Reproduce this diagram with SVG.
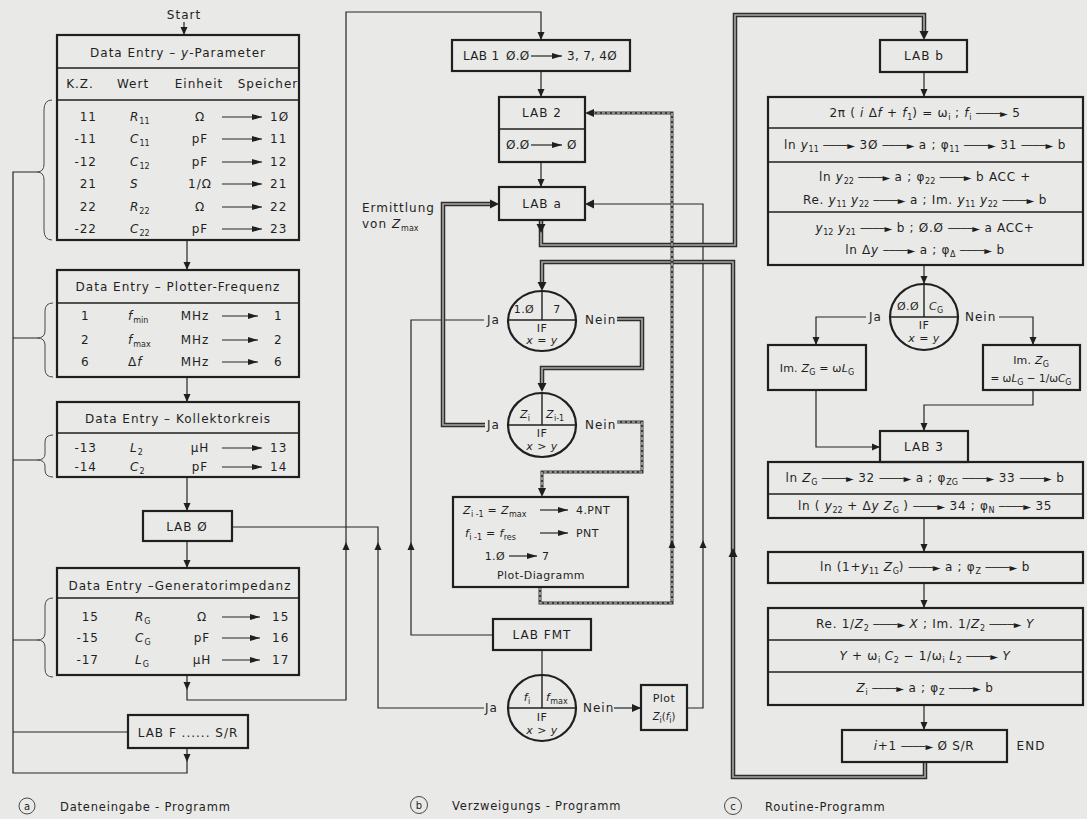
<svg xmlns="http://www.w3.org/2000/svg" width="1087" height="819" viewBox="0 0 1087 819">
<defs>
<style>
.bx{fill:none;stroke:#1f1f1f;stroke-width:2.2}
.dv{fill:none;stroke:#1f1f1f;stroke-width:1.4}
.ln{fill:none;stroke:#262626;stroke-width:1.2}
.br{fill:none;stroke:#4a4a4a;stroke-width:1}
.dbo{fill:none;stroke:#2e2e2e;stroke-width:4.5}
.dbi{fill:none;stroke:#a8a8a8;stroke-width:1.6}
.dto{fill:none;stroke:#3a3a3a;stroke-width:3}
.dti{fill:none;stroke:#cfcfcf;stroke-width:1.2;stroke-dasharray:3 2}
.ah{fill:#1f1f1f}
text{font-family:"DejaVu Sans","Liberation Sans",sans-serif;font-size:12px;letter-spacing:1px;fill:#1f1f1f}
.m{text-anchor:middle}
.e{text-anchor:end}
.it{font-style:italic}
.sb{font-size:8px;letter-spacing:0}
.ar{font-size:10px;letter-spacing:0}
.r{font-size:12px;letter-spacing:.7px;text-anchor:middle}
.c{font-size:11px;letter-spacing:.4px}
.s{letter-spacing:.3px}
.lb{font-size:11.5px;letter-spacing:.8px}
</style>
<marker id="a" markerWidth="10" markerHeight="7" refX="10" refY="3.5" orient="auto" markerUnits="userSpaceOnUse"><path d="M0,0.5 L10,3.5 L0,6.5z" fill="#1f1f1f"/></marker>
</defs>
<rect width="1087" height="819" fill="#e9e9e7"/>

<!-- connectors -->
<g id="connectors">
<!-- column a -->
<path class="ln" d="M184,22 V35"/>
<path class="ln" d="M187,240 V270"/>
<path class="ln" d="M187,377 V402"/>
<path class="ln" d="M187,477 V511"/>
<path class="ln" d="M187,541 V568"/>
<path class="ln" d="M187,675 V700 H346 V12 H541 V40"/>
<path class="ln" d="M187,748 V773 H13 V172 H37"/>
<path class="ln" d="M13,338 H37 M13,460 H37 M13,640 H37 M13,732 H128"/>
<path class="ln" d="M232,527 H378 V708 H484"/>
<path class="ln" d="M484,320 H411 V635 H493"/>
<!-- middle -->
<path class="ln" d="M541,71 V97"/>
<path class="ln" d="M541,162 V187"/>
<path class="ln" d="M687,708 H703 V204 H590"/>
<path class="ln" d="M542,650 V676"/>
<path class="ln" d="M614,708 H641"/>
<!-- column c -->
<path class="ln" d="M924,72 V97"/>
<path class="ln" d="M924,265 V284"/>
<path class="ln" d="M866,317 H816 V345"/>
<path class="ln" d="M999,317 H1033 V345"/>
<path class="ln" d="M1033,390 V405 H924 V431"/>
<path class="ln" d="M816,390 V447 H880"/>
<path class="ln" d="M924,518 V552"/>
<path class="ln" d="M924,583 V608"/>
<path class="ln" d="M924,705 V730"/>
<!-- double lines -->
<path class="dbo" d="M485,425 H443 V204 H491"/>
<path class="dbi" d="M485,425 H443 V204 H491"/>
<path class="dbo" d="M541,221 V245 H735 V15 H924 V32"/>
<path class="dbi" d="M541,221 V245 H735 V15 H924 V32"/>
<path class="dbo" d="M925,762 V777 H733 V262 H542 V283"/>
<path class="dbi" d="M925,762 V777 H733 V262 H542 V283"/>
<path class="dbo" d="M617,319 H642 V368 H542 V384"/>
<path class="dbi" d="M617,319 H642 V368 H542 V384"/>
<!-- dotted double lines -->
<path class="dto" d="M617,422 H642 V472 H542 V489"/>
<path class="dti" d="M617,422 H642 V472 H542 V489"/>
<path class="dto" d="M540,587 V603 H672 V113 H593"/>
<path class="dti" d="M540,587 V603 H672 V113 H593"/>
<!-- arrowheads -->
<g class="ah">
<polygon points="180.5,27 187.5,27 184,35"/>
<polygon points="183.5,262 190.5,262 187,270"/>
<polygon points="183.5,394 190.5,394 187,402"/>
<polygon points="183.5,503 190.5,503 187,511"/>
<polygon points="183.5,560 190.5,560 187,568"/>
<polygon points="183.5,682 190.5,682 187,690"/>
<polygon points="183.5,754 190.5,754 187,762"/>
<polygon points="342.5,550 349.5,550 346,542"/>
<polygon points="374.5,550 381.5,550 378,542"/>
<polygon points="407.5,550 414.5,550 411,542"/>
<polygon points="537.5,32 544.5,32 541,40"/>
<polygon points="537.5,89 544.5,89 541,97"/>
<polygon points="537.5,179 544.5,179 541,187"/>
<polygon points="490,199.5 490,208.5 499,204"/>
<polygon points="594,199.5 594,208.5 585,204"/>
<polygon points="594,109 594,117 585,113"/>
<polygon points="536.5,224 545.5,224 541,233"/>
<polygon points="919.5,31 928.5,31 924,40"/>
<polygon points="728.5,557 737.5,557 733,548"/>
<polygon points="537.5,282 546.5,282 542,291"/>
<polygon points="537.5,383 546.5,383 542,392"/>
<polygon points="538,488 546,488 542,497"/>
<polygon points="668.5,548 675.5,548 672,540"/>
<polygon points="699.5,548 706.5,548 703,540"/>
<polygon points="632,704 632,712 641,708"/>
<polygon points="920.5,89 927.5,89 924,97"/>
<polygon points="920.5,276 927.5,276 924,284"/>
<polygon points="812.5,337 819.5,337 816,345"/>
<polygon points="1029.5,337 1036.5,337 1033,345"/>
<polygon points="920.5,423 927.5,423 924,431"/>
<polygon points="872,443.5 872,450.5 880,447"/>
<polygon points="920.5,544 927.5,544 924,552"/>
<polygon points="920.5,600 927.5,600 924,608"/>
<polygon points="920.5,722 927.5,722 924,730"/>
</g>
<!-- braces -->
<path class="br" d="M52,100 Q44,100 44,110 L44,164 Q44,172 37,172 Q44,172 44,180 L44,230 Q44,240 52,240"/>
<path class="br" d="M53,303 Q45,303 45,311 L45,331 Q45,338 37,338 Q45,338 45,345 L45,369 Q45,377 53,377"/>
<path class="br" d="M53,435 Q45,435 45,442 L45,454 Q45,460 37,460 Q45,460 45,466 L45,470 Q45,477 53,477"/>
<path class="br" d="M53,598 Q45,598 45,606 L45,633 Q45,640 37,640 Q45,640 45,647 L45,669 Q45,677 53,677"/>
</g>

<!-- column a -->
<g id="start"><text x="184" y="19" class="m">Start</text></g>

<g id="entry-y">
<rect class="bx" x="57" y="35" width="242" height="205"/>
<line class="dv" x1="57" y1="68" x2="299" y2="68"/>
<line class="dv" x1="57" y1="100" x2="299" y2="100" stroke-width="2"/>
<text x="178" y="57" class="m">Data Entry – <tspan class="it">y</tspan>-Parameter</text>
<text x="80" y="88" class="m">K.Z.</text>
<text x="133" y="88" class="m">Wert</text>
<text x="199" y="88" class="m">Einheit</text>
<text x="268" y="88" class="m">Speicher</text>
<text x="97" y="121" class="e">11</text><text x="130" y="121"><tspan class="it">R</tspan><tspan class="sb" dy="3">11</tspan></text><text x="200" y="121" class="m">Ω</text><line class="ln" x1="222" y1="117" x2="262" y2="117" marker-end="url(#a)"/><text x="270" y="121">1Ø</text>
<text x="97" y="143" class="e">-11</text><text x="130" y="143"><tspan class="it">C</tspan><tspan class="sb" dy="3">11</tspan></text><text x="200" y="143" class="m">pF</text><line class="ln" x1="222" y1="139" x2="262" y2="139" marker-end="url(#a)"/><text x="270" y="143">11</text>
<text x="97" y="166" class="e">-12</text><text x="130" y="166"><tspan class="it">C</tspan><tspan class="sb" dy="3">12</tspan></text><text x="200" y="166" class="m">pF</text><line class="ln" x1="222" y1="162" x2="262" y2="162" marker-end="url(#a)"/><text x="270" y="166">12</text>
<text x="97" y="188" class="e">21</text><text x="130" y="188" class="it">S</text><text x="200" y="188" class="m">1/Ω</text><line class="ln" x1="222" y1="184" x2="262" y2="184" marker-end="url(#a)"/><text x="270" y="188">21</text>
<text x="97" y="211" class="e">22</text><text x="130" y="211"><tspan class="it">R</tspan><tspan class="sb" dy="3">22</tspan></text><text x="200" y="211" class="m">Ω</text><line class="ln" x1="222" y1="207" x2="262" y2="207" marker-end="url(#a)"/><text x="270" y="211">22</text>
<text x="97" y="233" class="e">-22</text><text x="130" y="233"><tspan class="it">C</tspan><tspan class="sb" dy="3">22</tspan></text><text x="200" y="233" class="m">pF</text><line class="ln" x1="222" y1="229" x2="262" y2="229" marker-end="url(#a)"/><text x="270" y="233">23</text>
</g>

<g id="entry-freq">
<rect class="bx" x="57" y="270" width="242" height="107"/>
<line class="dv" x1="57" y1="303" x2="299" y2="303"/>
<text x="178" y="291" class="m">Data Entry – Plotter-Frequenz</text>
<text x="81" y="320">1</text><text x="128" y="320"><tspan class="it">f</tspan><tspan class="sb" dy="3">min</tspan></text><text x="195" y="320" class="m">MHz</text><line class="ln" x1="222" y1="316" x2="258" y2="316" marker-end="url(#a)"/><text x="274" y="320">1</text>
<text x="81" y="344">2</text><text x="128" y="344"><tspan class="it">f</tspan><tspan class="sb" dy="3">max</tspan></text><text x="195" y="344" class="m">MHz</text><line class="ln" x1="222" y1="340" x2="258" y2="340" marker-end="url(#a)"/><text x="274" y="344">2</text>
<text x="81" y="366">6</text><text x="128" y="366">Δ<tspan class="it">f</tspan></text><text x="195" y="366" class="m">MHz</text><line class="ln" x1="222" y1="362" x2="258" y2="362" marker-end="url(#a)"/><text x="274" y="366">6</text>
</g>

<g id="entry-coll">
<rect class="bx" x="57" y="402" width="242" height="75"/>
<line class="dv" x1="57" y1="433" x2="299" y2="433"/>
<text x="178" y="423" class="m">Data Entry – Kollektorkreis</text>
<text x="97" y="452" class="e">-13</text><text x="130" y="452"><tspan class="it">L</tspan><tspan class="sb" dy="3">2</tspan></text><text x="200" y="452" class="m">μH</text><line class="ln" x1="222" y1="448" x2="262" y2="448" marker-end="url(#a)"/><text x="270" y="452">13</text>
<text x="97" y="471" class="e">-14</text><text x="130" y="471"><tspan class="it">C</tspan><tspan class="sb" dy="3">2</tspan></text><text x="200" y="471" class="m">pF</text><line class="ln" x1="222" y1="467" x2="262" y2="467" marker-end="url(#a)"/><text x="270" y="471">14</text>
</g>

<g id="lab0">
<rect class="bx" x="143" y="511" width="89" height="30"/>
<text x="187" y="531" class="m">LAB Ø</text>
</g>

<g id="entry-gen">
<rect class="bx" x="57" y="568" width="242" height="107"/>
<line class="dv" x1="57" y1="598" x2="299" y2="598"/>
<text x="180" y="590" class="m">Data Entry –Generatorimpedanz</text>
<text x="99" y="621" class="e">15</text><text x="135" y="621"><tspan class="it">R</tspan><tspan class="sb" dy="3">G</tspan></text><text x="202" y="621" class="m">Ω</text><line class="ln" x1="222" y1="617" x2="260" y2="617" marker-end="url(#a)"/><text x="272" y="621">15</text>
<text x="99" y="642" class="e">-15</text><text x="135" y="642"><tspan class="it">C</tspan><tspan class="sb" dy="3">G</tspan></text><text x="202" y="642" class="m">pF</text><line class="ln" x1="222" y1="638" x2="260" y2="638" marker-end="url(#a)"/><text x="272" y="642">16</text>
<text x="99" y="664" class="e">-17</text><text x="135" y="664"><tspan class="it">L</tspan><tspan class="sb" dy="3">G</tspan></text><text x="202" y="664" class="m">μH</text><line class="ln" x1="222" y1="660" x2="260" y2="660" marker-end="url(#a)"/><text x="272" y="664">17</text>
</g>

<g id="labF">
<rect class="bx" x="128" y="715" width="120" height="33"/>
<text x="188" y="737" class="m">LAB F ...... S/R</text>
</g>

<!-- column b -->
<g id="lab1">
<rect class="bx" x="452" y="40" width="178" height="31"/>
<text x="463" y="60" class="s">LAB 1</text>
<text x="506" y="60" class="s">Ø.Ø</text>
<line class="ln" x1="531" y1="56" x2="562" y2="56" marker-end="url(#a)"/>
<text x="567" y="60" class="s">3, 7, 4Ø</text>
</g>

<g id="lab2">
<rect class="bx" x="499" y="97" width="86" height="65"/>
<line class="dv" x1="499" y1="129" x2="585" y2="129"/>
<text x="542" y="117" class="m">LAB 2</text>
<text x="506" y="149" class="s">Ø.Ø</text>
<line class="ln" x1="531" y1="145" x2="562" y2="145" marker-end="url(#a)"/>
<text x="567" y="149" class="s">Ø</text>
</g>

<g id="labA">
<rect class="bx" x="499" y="187" width="86" height="33"/>
<text x="542" y="208" class="m">LAB a</text>
</g>

<g id="note-zmax">
<text x="362" y="212">Ermittlung</text>
<text x="362" y="228">von <tspan class="it">Z</tspan><tspan class="sb" dy="3">max</tspan></text>
</g>

<g id="if1">
<ellipse class="bx" cx="542" cy="321" rx="34" ry="30"/>
<line class="dv" x1="508" y1="320" x2="576" y2="320"/>
<line class="dv" x1="542" y1="291" x2="542" y2="320"/>
<text x="524" y="313" class="c m">1.Ø</text>
<text x="557" y="313" class="c m">7</text>
<text x="542" y="332" class="c m">IF</text>
<text x="542" y="344" class="c m"><tspan class="it">x</tspan> = <tspan class="it">y</tspan></text>
<text x="487" y="324">Ja</text>
<text x="585" y="324">Nein</text>
</g>

<g id="if2">
<ellipse class="bx" cx="542" cy="425" rx="34" ry="32"/>
<line class="dv" x1="508" y1="425" x2="576" y2="425"/>
<line class="dv" x1="542" y1="393" x2="542" y2="425"/>
<text x="525" y="418" class="c m"><tspan class="it">Z</tspan><tspan class="sb" dy="3">i</tspan></text>
<text x="546" y="418" class="c"><tspan class="it">Z</tspan><tspan class="sb" dy="3">i-1</tspan></text>
<text x="542" y="437" class="c m">IF</text>
<text x="542" y="450" class="c m"><tspan class="it">x</tspan> &gt; <tspan class="it">y</tspan></text>
<text x="487" y="429">Ja</text>
<text x="585" y="429">Nein</text>
</g>

<g id="zmax-box">
<rect class="bx" x="453" y="497" width="175" height="90"/>
<text x="463" y="514" class="c"><tspan class="it">Z</tspan><tspan class="sb" dy="3">i -1</tspan><tspan dy="-3"> = </tspan><tspan class="it">Z</tspan><tspan class="sb" dy="3">max</tspan></text>
<line class="ln" x1="540" y1="510" x2="568" y2="510" marker-end="url(#a)"/>
<text x="576" y="514" class="c">4.PNT</text>
<text x="465" y="537" class="c"><tspan class="it">f</tspan><tspan class="sb" dy="3">i -1</tspan><tspan dy="-3"> = </tspan><tspan class="it">f</tspan><tspan class="sb" dy="3">res</tspan></text>
<line class="ln" x1="540" y1="533" x2="568" y2="533" marker-end="url(#a)"/>
<text x="576" y="537" class="c">PNT</text>
<text x="505" y="560" class="c e">1.Ø</text>
<line class="ln" x1="509" y1="556" x2="537" y2="556" marker-end="url(#a)"/>
<text x="542" y="560" class="c">7</text>
<text x="541" y="579" class="c m">Plot-Diagramm</text>
</g>

<g id="labFMT">
<rect class="bx" x="493" y="619" width="98" height="31"/>
<text x="542" y="639" class="m">LAB FMT</text>
</g>

<g id="if3">
<ellipse class="bx" cx="542" cy="708" rx="34" ry="33"/>
<line class="dv" x1="508" y1="708" x2="576" y2="708"/>
<line class="dv" x1="542" y1="675" x2="542" y2="708"/>
<text x="527" y="701" class="c m"><tspan class="it">f</tspan><tspan class="sb" dy="3">i</tspan></text>
<text x="546" y="701" class="c"><tspan class="it">f</tspan><tspan class="sb" dy="3">max</tspan></text>
<text x="542" y="721" class="c m">IF</text>
<text x="542" y="734" class="c m"><tspan class="it">x</tspan> &gt; <tspan class="it">y</tspan></text>
<text x="485" y="712">Ja</text>
<text x="583" y="712">Nein</text>
</g>

<g id="plot">
<rect class="bx" x="641" y="685" width="46" height="45"/>
<text x="664" y="702" class="c m">Plot</text>
<text x="664" y="720" class="m" style="font-size:10px;letter-spacing:0"><tspan class="it">Z</tspan><tspan class="sb" dy="3">i</tspan><tspan dy="-3">(</tspan><tspan class="it">f</tspan><tspan class="sb" dy="3">i</tspan><tspan dy="-3">)</tspan></text>
</g>

<!-- column c -->
<g id="labB">
<rect class="bx" x="880" y="40" width="87" height="32"/>
<text x="924" y="60" class="m">LAB b</text>
</g>

<g id="calc1">
<rect class="bx" x="768" y="97" width="315" height="168"/>
<line class="dv" x1="768" y1="128" x2="1083" y2="128"/>
<line class="dv" x1="768" y1="162" x2="1083" y2="162"/>
<line class="dv" x1="768" y1="212" x2="1083" y2="212"/>
<text class="r" x="925" y="117">2π ( <tspan class="it">i</tspan> Δ<tspan class="it">f</tspan> + <tspan class="it">f</tspan><tspan class="sb" dy="3">1</tspan><tspan dy="-3">) = ω</tspan><tspan class="sb" dy="3">i</tspan><tspan dy="-3"> ;  <tspan class="it">f</tspan></tspan><tspan class="sb" dy="3">i</tspan><tspan dy="-3"> <tspan class="ar">────►</tspan> 5</tspan></text>
<text class="r" x="925" y="149">ln <tspan class="it">y</tspan><tspan class="sb" dy="3">11</tspan><tspan dy="-3"> <tspan class="ar">────►</tspan> 3Ø <tspan class="ar">────►</tspan> a ; φ</tspan><tspan class="sb" dy="3">11</tspan><tspan dy="-3"> <tspan class="ar">────►</tspan> 31 <tspan class="ar">────►</tspan> b</tspan></text>
<text class="r" x="925" y="181">ln <tspan class="it">y</tspan><tspan class="sb" dy="3">22</tspan><tspan dy="-3"> <tspan class="ar">────►</tspan> a ; φ</tspan><tspan class="sb" dy="3">22</tspan><tspan dy="-3"> <tspan class="ar">────►</tspan> b  ACC +</tspan></text>
<text class="r" x="925" y="204">Re. <tspan class="it">y</tspan><tspan class="sb" dy="3">11</tspan><tspan dy="-3"> <tspan class="it">y</tspan></tspan><tspan class="sb" dy="3">22</tspan><tspan dy="-3"> <tspan class="ar">────►</tspan> a ; Im. <tspan class="it">y</tspan></tspan><tspan class="sb" dy="3">11</tspan><tspan dy="-3"> <tspan class="it">y</tspan></tspan><tspan class="sb" dy="3">22</tspan><tspan dy="-3"> <tspan class="ar">────►</tspan> b</tspan></text>
<text class="r" x="925" y="232"><tspan class="it">y</tspan><tspan class="sb" dy="3">12</tspan><tspan dy="-3"> <tspan class="it">y</tspan></tspan><tspan class="sb" dy="3">21</tspan><tspan dy="-3"> <tspan class="ar">────►</tspan> b ; Ø.Ø <tspan class="ar">────►</tspan> a  ACC+</tspan></text>
<text class="r" x="925" y="254">ln Δ<tspan class="it">y</tspan> <tspan class="ar">────►</tspan> a ; φ<tspan class="sb" dy="3">Δ</tspan><tspan dy="-3"> <tspan class="ar">────►</tspan> b</tspan></text>
</g>

<g id="if4">
<ellipse class="bx" cx="924" cy="317" rx="34" ry="33"/>
<line class="dv" x1="890" y1="317" x2="958" y2="317"/>
<line class="dv" x1="924" y1="284" x2="924" y2="317"/>
<text x="908" y="310" class="c m">Ø.Ø</text>
<text x="929" y="310" class="c"><tspan class="it">C</tspan><tspan class="sb" dy="3">G</tspan></text>
<text x="924" y="329" class="c m">IF</text>
<text x="924" y="342" class="c m"><tspan class="it">x</tspan> = <tspan class="it">y</tspan></text>
<text x="869" y="321">Ja</text>
<text x="965" y="321">Nein</text>
</g>

<g id="imzg1">
<rect class="bx" x="768" y="345" width="98" height="45"/>
<text x="817" y="372" class="m" style="font-size:11px;letter-spacing:.2px">Im. <tspan class="it">Z</tspan><tspan class="sb" dy="3">G</tspan><tspan dy="-3"> = ω<tspan class="it">L</tspan></tspan><tspan class="sb" dy="3">G</tspan></text>
</g>

<g id="imzg2">
<rect class="bx" x="983" y="345" width="97" height="45"/>
<text x="1031" y="364" class="m" style="font-size:11px;letter-spacing:.2px">Im. <tspan class="it">Z</tspan><tspan class="sb" dy="3">G</tspan></text>
<text x="1031" y="382" class="m" style="font-size:10.5px;letter-spacing:0">= ω<tspan class="it">L</tspan><tspan class="sb" dy="3">G</tspan><tspan dy="-3"> − 1/ω<tspan class="it">C</tspan></tspan><tspan class="sb" dy="3">G</tspan></text>
</g>

<g id="lab3">
<rect class="bx" x="880" y="431" width="88" height="31"/>
<text x="924" y="451" class="m">LAB 3</text>
</g>

<g id="calc2">
<rect class="bx" x="768" y="462" width="315" height="56"/>
<line class="dv" x1="768" y1="494" x2="1083" y2="494"/>
<text class="r" x="925" y="482">ln <tspan class="it">Z</tspan><tspan class="sb" dy="3">G</tspan><tspan dy="-3"> <tspan class="ar">────►</tspan> 32 <tspan class="ar">────►</tspan> a ; φ</tspan><tspan class="sb" dy="3">ZG</tspan><tspan dy="-3"> <tspan class="ar">────►</tspan> 33 <tspan class="ar">────►</tspan> b</tspan></text>
<text class="r" x="925" y="510">ln ( <tspan class="it">y</tspan><tspan class="sb" dy="3">22</tspan><tspan dy="-3"> + Δ<tspan class="it">y</tspan> <tspan class="it">Z</tspan></tspan><tspan class="sb" dy="3">G</tspan><tspan dy="-3"> ) <tspan class="ar">────►</tspan> 34 ;  φ</tspan><tspan class="sb" dy="3">N</tspan><tspan dy="-3"> <tspan class="ar">────►</tspan> 35</tspan></text>
</g>

<g id="calc3">
<rect class="bx" x="768" y="552" width="315" height="31"/>
<text class="r" x="925" y="571">ln (1+<tspan class="it">y</tspan><tspan class="sb" dy="3">11</tspan><tspan dy="-3"> <tspan class="it">Z</tspan></tspan><tspan class="sb" dy="3">G</tspan><tspan dy="-3">) <tspan class="ar">────►</tspan> a ; φ</tspan><tspan class="sb" dy="3">Z</tspan><tspan dy="-3"> <tspan class="ar">────►</tspan> b</tspan></text>
</g>

<g id="calc4">
<rect class="bx" x="768" y="608" width="315" height="97"/>
<line class="dv" x1="768" y1="640" x2="1083" y2="640"/>
<line class="dv" x1="768" y1="672" x2="1083" y2="672"/>
<text class="r" x="925" y="628">Re. 1/<tspan class="it">Z</tspan><tspan class="sb" dy="3">2</tspan><tspan dy="-3"> <tspan class="ar">────►</tspan> <tspan class="it">X</tspan> ; Im. 1/<tspan class="it">Z</tspan></tspan><tspan class="sb" dy="3">2</tspan><tspan dy="-3"> <tspan class="ar">────►</tspan> <tspan class="it">Y</tspan></tspan></text>
<text class="r" x="925" y="660"><tspan class="it">Y</tspan> + ω<tspan class="sb" dy="3">i</tspan><tspan dy="-3"> <tspan class="it">C</tspan></tspan><tspan class="sb" dy="3">2</tspan><tspan dy="-3"> − 1/ω</tspan><tspan class="sb" dy="3">i</tspan><tspan dy="-3"> <tspan class="it">L</tspan></tspan><tspan class="sb" dy="3">2</tspan><tspan dy="-3"> <tspan class="ar">────►</tspan> <tspan class="it">Y</tspan></tspan></text>
<text class="r" x="925" y="692"><tspan class="it">Z</tspan><tspan class="sb" dy="3">i</tspan><tspan dy="-3"> <tspan class="ar">────►</tspan> a ; φ</tspan><tspan class="sb" dy="3">Z</tspan><tspan dy="-3"> <tspan class="ar">────►</tspan> b</tspan></text>
</g>

<g id="end">
<rect class="bx" x="842" y="730" width="165" height="32"/>
<text class="r" x="924" y="750"><tspan class="it">i</tspan>+1 <tspan class="ar">────►</tspan> Ø  S/R</text>
<text x="1031" y="750" class="m">END</text>
</g>

<!-- captions -->
<g id="captions">
<circle class="br" cx="27" cy="806" r="8"/><text x="27" y="810" class="m lb" style="font-size:10px;letter-spacing:0">a</text>
<text x="60" y="811" class="lb">Dateneingabe - Programm</text>
<circle class="br" cx="419" cy="805" r="8.5"/><text x="419" y="809" class="m lb" style="font-size:10px;letter-spacing:0">b</text>
<text x="452" y="810" class="lb">Verzweigungs - Programm</text>
<circle class="br" cx="733" cy="806" r="8.5"/><text x="733" y="810" class="m lb" style="font-size:10px;letter-spacing:0">c</text>
<text x="765" y="811" class="lb">Routine-Programm</text>
</g>
</svg>
